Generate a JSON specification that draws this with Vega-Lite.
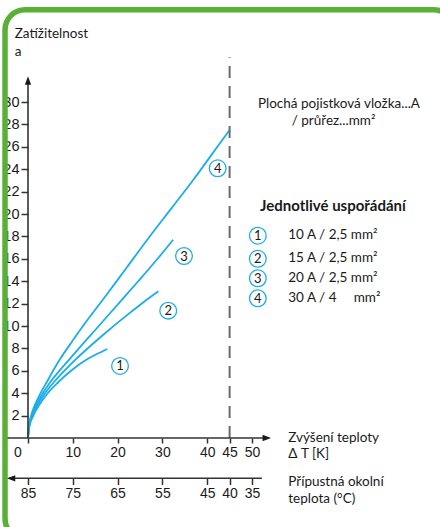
{
  "$schema": "https://vega.github.io/schema/vega-lite/v6.json",
  "width": 224,
  "height": 336,
  "autosize": {"type": "none"},
  "padding": {"left": 28, "top": 102, "right": 188, "bottom": 89},
  "background": "#ffffff",
  "config": {
    "view": {"stroke": null},
    "axis": {"grid": false, "domain": false, "labelFont": "Liberation Sans", "labelFontSize": 14, "labelColor": "#1a1a1a", "tickColor": "#333333", "tickWidth": 1.5, "labelFlush": false, "labelOverlap": false},
    "axisY": {"labelFontSize": 14.5}
  },
  "resolve": {"scale": {"x": "independent"}},
  "layer": [
    {
      "data": {"values": [
        {"c": "1", "x": 0, "y": 0}, {"c": "1", "x": 0.3, "y": 1}, {"c": "1", "x": 1.2, "y": 2}, {"c": "1", "x": 2.6, "y": 3}, {"c": "1", "x": 4.4, "y": 4}, {"c": "1", "x": 6.8, "y": 5}, {"c": "1", "x": 9.6, "y": 6}, {"c": "1", "x": 13.1, "y": 7}, {"c": "1", "x": 15.4, "y": 7.5}, {"c": "1", "x": 17.7, "y": 7.95},
        {"c": "2", "x": 0, "y": 0}, {"c": "2", "x": 0.25, "y": 1}, {"c": "2", "x": 1.0, "y": 2}, {"c": "2", "x": 2.2, "y": 3}, {"c": "2", "x": 3.8, "y": 4}, {"c": "2", "x": 5.8, "y": 5}, {"c": "2", "x": 8.1, "y": 6}, {"c": "2", "x": 10.6, "y": 7}, {"c": "2", "x": 13.6, "y": 8.1}, {"c": "2", "x": 17.2, "y": 9.35}, {"c": "2", "x": 21.4, "y": 10.75}, {"c": "2", "x": 25.2, "y": 11.95}, {"c": "2", "x": 29.1, "y": 13.1},
        {"c": "3", "x": 0, "y": 0}, {"c": "3", "x": 0.2, "y": 1}, {"c": "3", "x": 0.85, "y": 2}, {"c": "3", "x": 1.9, "y": 3}, {"c": "3", "x": 3.3, "y": 4}, {"c": "3", "x": 5.0, "y": 5}, {"c": "3", "x": 7.0, "y": 6}, {"c": "3", "x": 9.2, "y": 7}, {"c": "3", "x": 12.0, "y": 8.3}, {"c": "3", "x": 15.8, "y": 10.0}, {"c": "3", "x": 20.3, "y": 12.05}, {"c": "3", "x": 24.5, "y": 13.95}, {"c": "3", "x": 28.5, "y": 15.8}, {"c": "3", "x": 32.4, "y": 17.7},
        {"c": "4", "x": 0, "y": 0}, {"c": "4", "x": 0.15, "y": 1}, {"c": "4", "x": 0.7, "y": 2}, {"c": "4", "x": 1.6, "y": 3}, {"c": "4", "x": 2.8, "y": 4}, {"c": "4", "x": 4.2, "y": 5}, {"c": "4", "x": 5.6, "y": 6}, {"c": "4", "x": 7.1, "y": 7}, {"c": "4", "x": 9.8, "y": 8.6}, {"c": "4", "x": 13, "y": 10.4}, {"c": "4", "x": 17, "y": 12.5}, {"c": "4", "x": 22, "y": 15.2}, {"c": "4", "x": 27, "y": 17.9}, {"c": "4", "x": 32, "y": 20.5}, {"c": "4", "x": 37, "y": 23.1}, {"c": "4", "x": 41, "y": 25.3}, {"c": "4", "x": 45, "y": 27.5}
      ]},
      "mark": {"type": "line", "color": "#1aaee8", "strokeWidth": 1.8, "interpolate": "monotone"},
      "encoding": {
        "x": {"field": "x", "type": "quantitative", "scale": {"domain": [0, 50], "nice": false, "zero": false},
          "axis": {"orient": "bottom", "values": [0, 10, 20, 30, 40, 45, 50], "tickSize": 5, "labelPadding": 2, "labelOffset": {"condition": {"test": "datum.value === 0", "value": -10.7}, "value": 0}, "title": null}},
        "y": {"field": "y", "type": "quantitative", "scale": {"domain": [0, 30], "nice": false, "zero": false},
          "axis": {"orient": "left", "values": [2, 4, 6, 8, 10, 12, 14, 16, 18, 20, 22, 24, 26, 28, 30], "tickSize": 7, "labelPadding": 2, "title": null}},
        "detail": {"field": "c"}
      }
    },
    {
      "data": {"values": [{"t": 40, "y": 0, "y2": 34.0}]},
      "mark": {"type": "rule", "color": "#6b6b6b", "strokeWidth": 2, "strokeDash": [12, 8]},
      "encoding": {
        "x": {"field": "t", "type": "quantitative", "scale": {"domain": [85, 35], "nice": false, "zero": false},
          "axis": {"orient": "bottom", "offset": 40.5, "values": [85, 75, 65, 55, 45, 40, 35], "tickSize": 6, "labelPadding": 2, "title": null}},
        "y": {"field": "y", "type": "quantitative", "scale": {"domain": [0, 30], "nice": false, "zero": false},
          "axis": {"orient": "left", "values": [2, 4, 6, 8, 10, 12, 14, 16, 18, 20, 22, 24, 26, 28, 30], "tickSize": 7, "labelPadding": 2, "title": null}},
        "y2": {"field": "y2"}
      }
    },
    {
      "data": {"values": [
        {"x": 0, "x2": 0, "y": 0, "y2": 31.6},
        {"x": -5.2, "x2": 53.0, "y": 0, "y2": 0},
        {"x": -3.4, "x2": 52.2, "y": -3.6, "y2": -3.6}
      ]},
      "mark": {"type": "rule", "color": "#333333", "strokeWidth": 1.6},
      "encoding": {
        "x": {"field": "x", "type": "quantitative", "scale": {"domain": [0, 50], "nice": false, "zero": false}, "axis": null},
        "x2": {"field": "x2"},
        "y": {"field": "y", "type": "quantitative", "scale": {"domain": [0, 30], "nice": false, "zero": false},
          "axis": {"orient": "left", "values": [2, 4, 6, 8, 10, 12, 14, 16, 18, 20, 22, 24, 26, 28, 30], "tickSize": 7, "labelPadding": 2, "title": null}},
        "y2": {"field": "y2"}
      }
    },
    {
      "data": {"values": [
        {"dir": "up", "x": 0, "y": 31.92},
        {"dir": "right", "x": 53.3, "y": 0},
        {"dir": "left", "x": -3.8, "y": -3.6}
      ]},
      "mark": {"type": "point", "filled": true, "color": "#1a1a1a", "opacity": 1, "size": 72},
      "encoding": {
        "x": {"field": "x", "type": "quantitative", "scale": {"domain": [0, 50], "nice": false, "zero": false}, "axis": null},
        "y": {"field": "y", "type": "quantitative", "scale": {"domain": [0, 30], "nice": false, "zero": false},
          "axis": {"orient": "left", "values": [2, 4, 6, 8, 10, 12, 14, 16, 18, 20, 22, 24, 26, 28, 30], "tickSize": 7, "labelPadding": 2, "title": null}},
        "shape": {"field": "dir", "type": "nominal", "scale": {"domain": ["up", "right", "left"], "range": ["M0,-1L0.75,1L-0.75,1Z", "M1,0L-1,-0.75L-1,0.75Z", "M-1,0L1,-0.75L1,0.75Z"]}, "legend": null}
      }
    },
    {
      "data": {"values": [
        {"n": "1", "x": 20.54, "y": 6.43},
        {"n": "2", "x": 31.3, "y": 11.37},
        {"n": "3", "x": 34.82, "y": 16.25},
        {"n": "4", "x": 42.34, "y": 24.08},
        {"n": "1", "x": 51.3, "y": 18.06},
        {"n": "2", "x": 51.3, "y": 16.0},
        {"n": "3", "x": 51.3, "y": 14.26},
        {"n": "4", "x": 51.3, "y": 12.47}
      ]},
      "mark": {"type": "point", "shape": "circle", "filled": false, "stroke": "#1aaee8", "strokeWidth": 1.3, "opacity": 1, "size": 280},
      "encoding": {
        "x": {"field": "x", "type": "quantitative", "scale": {"domain": [0, 50], "nice": false, "zero": false}, "axis": null},
        "y": {"field": "y", "type": "quantitative", "scale": {"domain": [0, 30], "nice": false, "zero": false},
          "axis": {"orient": "left", "values": [2, 4, 6, 8, 10, 12, 14, 16, 18, 20, 22, 24, 26, 28, 30], "tickSize": 7, "labelPadding": 2, "title": null}}
      }
    },
    {
      "data": {"values": [
        {"n": "1", "x": 20.54, "y": 6.43},
        {"n": "2", "x": 31.3, "y": 11.37},
        {"n": "3", "x": 34.82, "y": 16.25},
        {"n": "4", "x": 42.34, "y": 24.08},
        {"n": "1", "x": 51.3, "y": 18.06},
        {"n": "2", "x": 51.3, "y": 16.0},
        {"n": "3", "x": 51.3, "y": 14.26},
        {"n": "4", "x": 51.3, "y": 12.47}
      ]},
      "mark": {"type": "text", "font": "Lato", "fontSize": 13, "color": "#1a1a1a", "align": "center", "baseline": "middle", "dy": 0.5},
      "encoding": {
        "x": {"field": "x", "type": "quantitative", "scale": {"domain": [0, 50], "nice": false, "zero": false}, "axis": null},
        "y": {"field": "y", "type": "quantitative", "scale": {"domain": [0, 30], "nice": false, "zero": false},
          "axis": {"orient": "left", "values": [2, 4, 6, 8, 10, 12, 14, 16, 18, 20, 22, 24, 26, 28, 30], "tickSize": 7, "labelPadding": 2, "title": null}},
        "text": {"field": "n"}
      }
    },
    {
      "data": {"values": [
        {"x": -2.97, "y": 36.1, "t": "Zatížitelnost"},
        {"x": -2.97, "y": 34.5, "t": "a"},
        {"x": 58.1, "y": -0.02, "t": "Zvýšení teploty"},
        {"x": 58.1, "y": -1.4, "t": "Δ T [K]"},
        {"x": 58.1, "y": -3.95, "t": "Přípustná okolní"},
        {"x": 58.1, "y": -5.42, "t": "teplota (°C)"},
        {"x": 58.1, "y": 18.1, "t": "10 A / 2,5 mm²"},
        {"x": 58.1, "y": 16.05, "t": "15 A / 2,5 mm²"},
        {"x": 58.1, "y": 14.3, "t": "20 A / 2,5 mm²"},
        {"x": 58.1, "y": 12.5, "t": "30 A / 4\u00a0\u00a0\u00a0\u00a0 mm²"}
      ]},
      "mark": {"type": "text", "font": "Lato", "fontSize": 13.5, "color": "#1a1a1a", "align": "left", "baseline": "middle"},
      "encoding": {
        "x": {"field": "x", "type": "quantitative", "scale": {"domain": [0, 50], "nice": false, "zero": false}, "axis": null},
        "y": {"field": "y", "type": "quantitative", "scale": {"domain": [0, 30], "nice": false, "zero": false},
          "axis": {"orient": "left", "values": [2, 4, 6, 8, 10, 12, 14, 16, 18, 20, 22, 24, 26, 28, 30], "tickSize": 7, "labelPadding": 2, "title": null}},
        "text": {"field": "t"}
      }
    },
    {
      "data": {"values": [
        {"x": 69.4, "y": 29.8, "t": "Plochá pojistková vložka...A"},
        {"x": 68.2, "y": 28.33, "t": "/ průřez...mm²"}
      ]},
      "mark": {"type": "text", "font": "Lato", "fontSize": 13.5, "color": "#1a1a1a", "align": "center", "baseline": "middle"},
      "encoding": {
        "x": {"field": "x", "type": "quantitative", "scale": {"domain": [0, 50], "nice": false, "zero": false}, "axis": null},
        "y": {"field": "y", "type": "quantitative", "scale": {"domain": [0, 30], "nice": false, "zero": false},
          "axis": {"orient": "left", "values": [2, 4, 6, 8, 10, 12, 14, 16, 18, 20, 22, 24, 26, 28, 30], "tickSize": 7, "labelPadding": 2, "title": null}},
        "text": {"field": "t"}
      }
    },
    {
      "data": {"values": [
        {"x": 51.8, "y": 20.7, "t": "Jednotlivé uspořádání"}
      ]},
      "mark": {"type": "text", "font": "Lato", "fontSize": 15, "fontWeight": "bold", "color": "#1a1a1a", "align": "left", "baseline": "middle"},
      "encoding": {
        "x": {"field": "x", "type": "quantitative", "scale": {"domain": [0, 50], "nice": false, "zero": false}, "axis": null},
        "y": {"field": "y", "type": "quantitative", "scale": {"domain": [0, 30], "nice": false, "zero": false},
          "axis": {"orient": "left", "values": [2, 4, 6, 8, 10, 12, 14, 16, 18, 20, 22, 24, 26, 28, 30], "tickSize": 7, "labelPadding": 2, "title": null}},
        "text": {"field": "t"}
      }
    },
    {
      "data": {"values": [
        {"x": -5.13, "x2": 95, "y": 38.24, "y2": -9}
      ]},
      "mark": {"type": "rect", "filled": false, "stroke": "#58b135", "strokeWidth": 5.5, "cornerRadius": 20},
      "encoding": {
        "x": {"field": "x", "type": "quantitative", "scale": {"domain": [0, 50], "nice": false, "zero": false}, "axis": null},
        "x2": {"field": "x2"},
        "y": {"field": "y", "type": "quantitative", "scale": {"domain": [0, 30], "nice": false, "zero": false},
          "axis": {"orient": "left", "values": [2, 4, 6, 8, 10, 12, 14, 16, 18, 20, 22, 24, 26, 28, 30], "tickSize": 7, "labelPadding": 2, "title": null}},
        "y2": {"field": "y2"}
      }
    }
  ]
}
